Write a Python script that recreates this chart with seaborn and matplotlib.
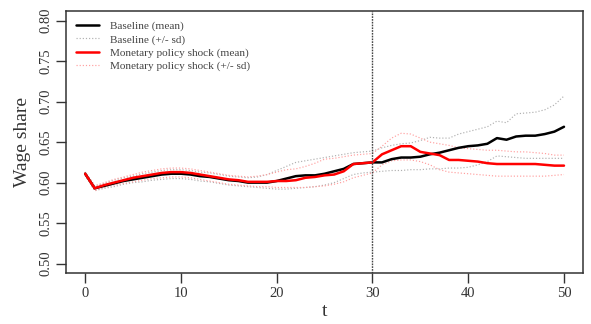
import numpy as np
import pandas as pd
import matplotlib
matplotlib.use("Agg")
import matplotlib.pyplot as plt
import seaborn as sns

t = list(range(51))

base_mean = [0.611, 0.593, 0.596, 0.599, 0.602, 0.604, 0.606, 0.608, 0.610, 0.611,
             0.611, 0.610, 0.608, 0.607, 0.605, 0.603, 0.602, 0.600, 0.600, 0.600,
             0.602, 0.605, 0.608, 0.609, 0.609, 0.611, 0.614, 0.617, 0.623, 0.624,
             0.625, 0.625, 0.629, 0.631, 0.631, 0.632, 0.635, 0.637, 0.640, 0.643,
             0.645, 0.646, 0.648, 0.655, 0.653, 0.657, 0.658, 0.658, 0.660, 0.663,
             0.669]
base_upper = [0.613, 0.596, 0.599, 0.603, 0.606, 0.608, 0.611, 0.613, 0.615, 0.616,
              0.616, 0.615, 0.613, 0.612, 0.610, 0.608, 0.607, 0.606, 0.607, 0.610,
              0.615, 0.620, 0.625, 0.627, 0.629, 0.631, 0.633, 0.635, 0.637, 0.638,
              0.639, 0.643, 0.646, 0.648, 0.649, 0.652, 0.656, 0.655, 0.655, 0.660,
              0.663, 0.666, 0.669, 0.676, 0.674, 0.685, 0.686, 0.687, 0.690, 0.696,
              0.707]
base_lower = [0.609, 0.590, 0.593, 0.595, 0.598, 0.600, 0.601, 0.603, 0.604, 0.605,
              0.605, 0.604, 0.602, 0.601, 0.599, 0.597, 0.596, 0.595, 0.594, 0.593,
              0.592, 0.592, 0.593, 0.594, 0.595, 0.597, 0.600, 0.605, 0.610, 0.612,
              0.613, 0.614, 0.615, 0.615, 0.616, 0.616, 0.617, 0.617, 0.618, 0.618,
              0.619, 0.622, 0.626, 0.633, 0.632, 0.631, 0.630, 0.630, 0.630, 0.630,
              0.630]
shock_mean = [0.611, 0.593, 0.597, 0.600, 0.603, 0.606, 0.608, 0.610, 0.612, 0.613,
              0.613, 0.612, 0.610, 0.608, 0.606, 0.604, 0.603, 0.601, 0.601, 0.601,
              0.602, 0.602, 0.603, 0.606, 0.607, 0.609, 0.610, 0.614, 0.623, 0.624,
              0.625, 0.635, 0.640, 0.645, 0.645, 0.638, 0.636, 0.634, 0.628, 0.628,
              0.627, 0.626, 0.624, 0.623, 0.623, 0.623, 0.623, 0.623, 0.622, 0.621,
              0.621]
shock_upper = [0.613, 0.596, 0.600, 0.604, 0.607, 0.610, 0.613, 0.615, 0.617, 0.618,
               0.618, 0.617, 0.615, 0.613, 0.611, 0.609, 0.608, 0.607, 0.608, 0.610,
               0.613, 0.616, 0.617, 0.620, 0.624, 0.629, 0.630, 0.632, 0.634, 0.635,
               0.636, 0.645, 0.655, 0.661, 0.660, 0.655, 0.650, 0.648, 0.646, 0.643,
               0.642, 0.641, 0.640, 0.640, 0.639, 0.638, 0.638, 0.637, 0.636, 0.634,
               0.634]
shock_lower = [0.609, 0.590, 0.594, 0.597, 0.599, 0.601, 0.603, 0.605, 0.606, 0.607,
               0.607, 0.606, 0.604, 0.602, 0.600, 0.598, 0.597, 0.596, 0.595, 0.595,
               0.594, 0.594, 0.594, 0.594, 0.595, 0.596, 0.598, 0.601, 0.606, 0.609,
               0.612, 0.622, 0.627, 0.628, 0.628, 0.626, 0.622, 0.616, 0.613, 0.612,
               0.611, 0.610, 0.609, 0.608, 0.608, 0.608, 0.608, 0.608, 0.608, 0.609,
               0.610]

x_ticks = [0, 10, 20, 30, 40, 50]
y_ticks = [0.50, 0.55, 0.60, 0.65, 0.70, 0.75, 0.80]
shock_time = 30

sns.set_style("white")
plt.rcParams['font.family'] = ['Liberation Serif', 'DejaVu Serif']

fig = plt.figure(figsize=(5.91, 3.24), dpi=100)
ax = fig.add_axes([0.1117, 0.1565, 0.875, 0.8095])

grey_c = "#b0b0b0"
lred_c = "#ff9f9f"

sns.lineplot(x=t, y=base_upper, ax=ax, color=grey_c, lw=0.85, linestyle=":", label="Baseline (+/- sd)")
sns.lineplot(x=t, y=base_lower, ax=ax, color=grey_c, lw=0.85, linestyle=":")
sns.lineplot(x=t, y=shock_upper, ax=ax, color=lred_c, lw=0.85, linestyle=":", label="Monetary policy shock (+/- sd)")
sns.lineplot(x=t, y=shock_lower, ax=ax, color=lred_c, lw=0.85, linestyle=":")
sns.lineplot(x=t, y=base_mean, ax=ax, color="black", lw=1.8, label="Baseline (mean)")
sns.lineplot(x=t, y=shock_mean, ax=ax, color="#ff0000", lw=1.8, label="Monetary policy shock (mean)")

ax.axvline(shock_time, color="#444444", lw=1.0, linestyle=(0, (1.2, 0.8)))

ax.set_xlim(-2, 52)
ax.set_ylim(0.488, 0.812)
ax.set_xticks(x_ticks)
ax.set_yticks(y_ticks)
ax.set_xticklabels([str(v) for v in x_ticks])
ax.set_yticklabels([f"{v:.2f}" for v in y_ticks], rotation=90, va="center")
ax.tick_params(axis="both", direction="out", length=7, width=1.0, color="#333333",
               labelsize=10.5, labelcolor="#333333", left=True, bottom=True, pad=3)
for s in ax.spines.values():
    s.set_color("#333333")
    s.set_linewidth(1.1)

ax.set_xlabel("t", fontsize=14, color="#333333", labelpad=2)
ax.set_ylabel("Wage share", fontsize=14, color="#333333", labelpad=6)

handles, labels = ax.get_legend_handles_labels()
order = ["Baseline (mean)", "Baseline (+/- sd)", "Monetary policy shock (mean)", "Monetary policy shock (+/- sd)"]
hmap = dict(zip(labels, handles))
leg = ax.legend([hmap[k] for k in order], order, loc="upper left", frameon=False,
                fontsize=8.1, handlelength=2.0, handletextpad=1.0, labelspacing=0.28,
                borderaxespad=0.5, bbox_to_anchor=(0.0, 1.0))
for txt in leg.get_texts():
    txt.set_color("#444444")

fig.savefig("out.png", dpi=100)
